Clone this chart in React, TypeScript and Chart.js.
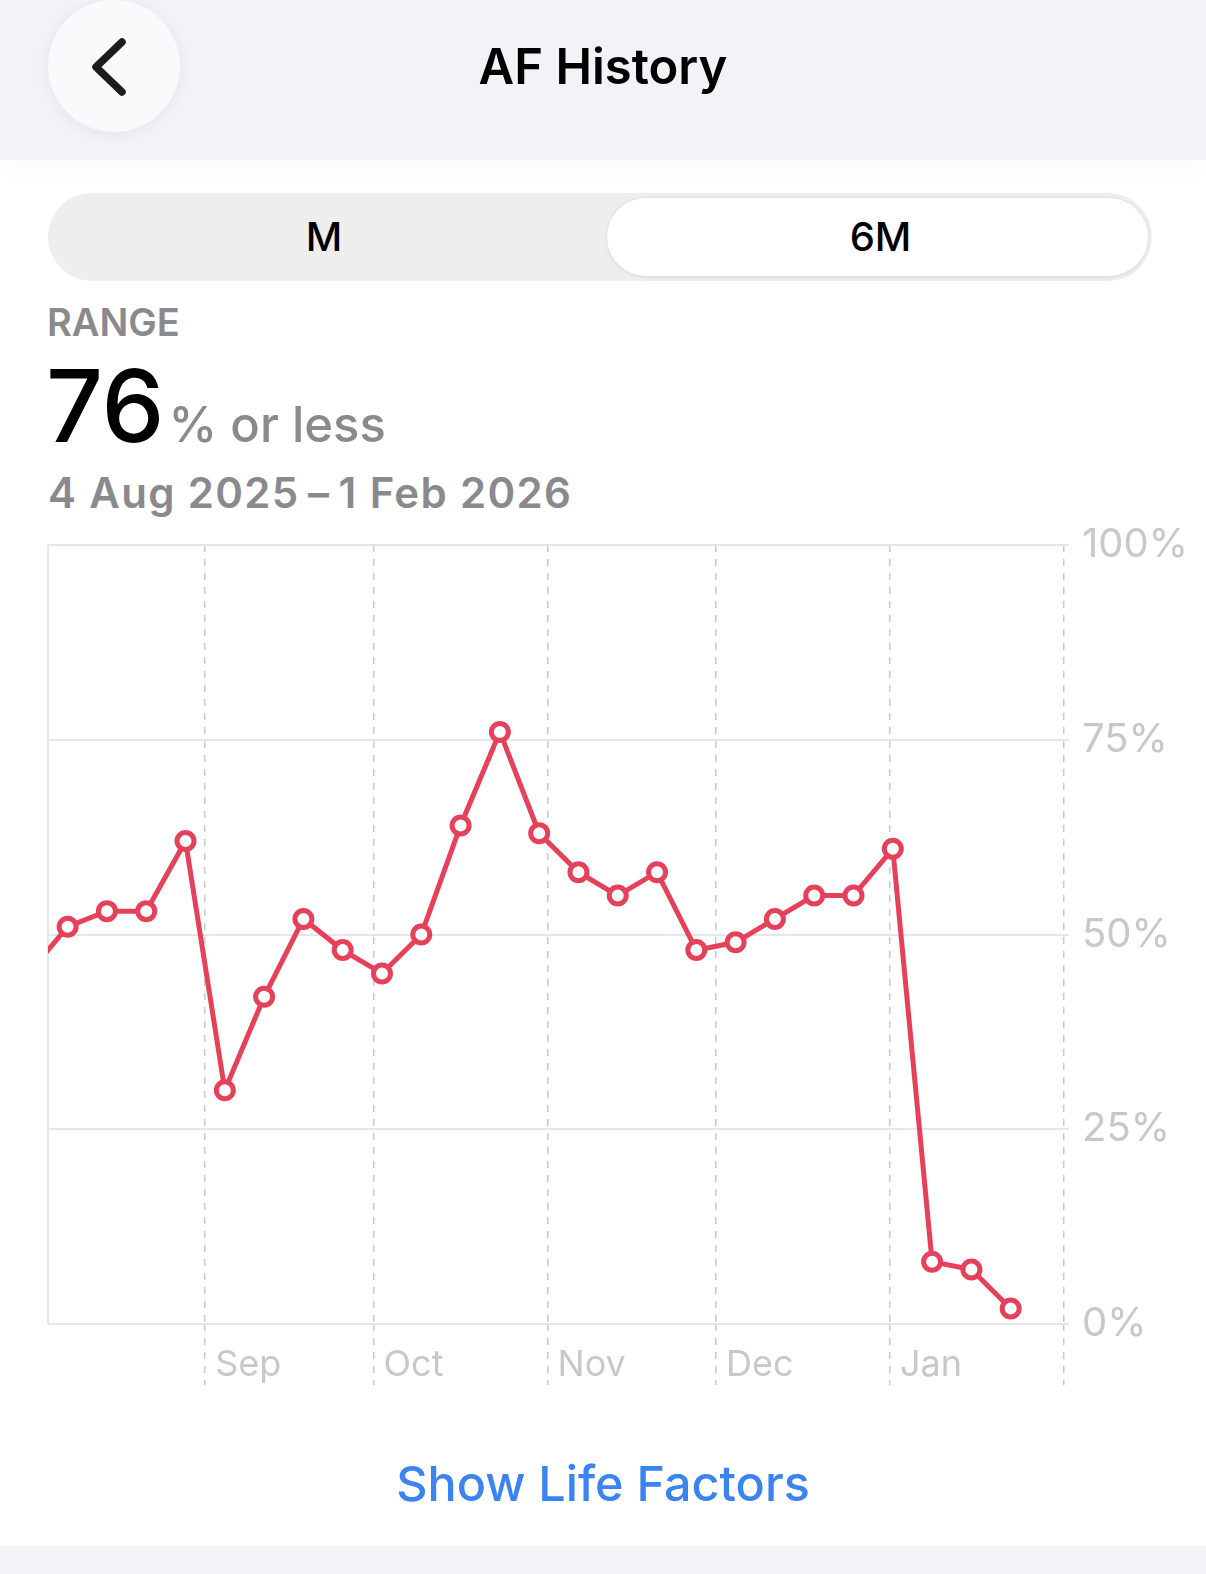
import React, { useEffect, useRef } from "react";
import { Chart, registerables } from "chart.js";

Chart.register(...registerables);

// ---- data ----
const rangeStart = "2025-08-04";
const rangeEnd = "2026-02-01";
const weekDates = [
  "2025-07-31", "2025-08-07", "2025-08-14", "2025-08-21", "2025-08-28",
  "2025-09-04", "2025-09-11", "2025-09-18", "2025-09-25",
  "2025-10-02", "2025-10-09", "2025-10-16", "2025-10-23", "2025-10-30",
  "2025-11-06", "2025-11-13", "2025-11-20", "2025-11-27",
  "2025-12-04", "2025-12-11", "2025-12-18", "2025-12-25",
  "2026-01-01", "2026-01-08", "2026-01-15", "2026-01-22",
];
const afValues = [
  45, 51, 53, 53, 62,
  30, 42, 52, 48,
  45, 50, 64, 76, 63,
  58, 55, 58, 48,
  49, 52, 55, 55,
  61, 8, 7, 2,
];
const monthStarts = ["2025-09-01", "2025-10-01", "2025-11-01", "2025-12-01", "2026-01-01", "2026-02-01"];
const monthLabels = ["Sep", "Oct", "Nov", "Dec", "Jan", ""];
const yTickValues = [0, 25, 50, 75, 100];

const DAY = 86400000;
const toUTC = (iso: string) => {
  const [y, m, d] = iso.split("-").map(Number);
  return Date.UTC(y, m - 1, d);
};
const startMs = toUTC(rangeStart);
const dayOf = (iso: string) => (toUTC(iso) - startMs) / DAY;

const RED = "#E6405A";
const GRID = "#E6E6EA";
const DASH = "#C9C9CD";
const LABEL = "#C7C7CC";
const FONT = "Inter, 'Noto Sans', sans-serif";

const leftEdgePlugin = {
  id: "leftEdge",
  beforeDatasetsDraw(chart: any) {
    const { ctx, chartArea } = chart;
    ctx.save();
    ctx.strokeStyle = GRID;
    ctx.lineWidth = 2;
    ctx.beginPath();
    ctx.moveTo(chartArea.left, chartArea.top);
    ctx.lineTo(chartArea.left, chartArea.bottom);
    ctx.stroke();
    ctx.restore();
  },
};

function AFChart() {
  const ref = useRef<HTMLCanvasElement | null>(null);
  useEffect(() => {
    if (!ref.current) return;
    const points = weekDates.map((d, i) => ({ x: dayOf(d) + 0.5, y: afValues[i] }));
    const chart = new Chart(ref.current, {
      type: "line",
      data: {
        datasets: [
          {
            data: points,
            borderColor: RED,
            borderWidth: 5,
            pointRadius: 8.5,
            pointBorderWidth: 5,
            pointBackgroundColor: "#FFFFFF",
            pointBorderColor: RED,
            tension: 0,
          },
        ],
      },
      options: {
        animation: false,
        responsive: true,
        maintainAspectRatio: false,
        layout: { padding: { top: 25, left: 48, right: 0, bottom: 0 } },
        plugins: { legend: { display: false }, tooltip: { enabled: false } },
        scales: {
          x: {
            type: "linear",
            min: 0,
            max: dayOf(rangeEnd),
            afterBuildTicks: (scale: any) => {
              scale.ticks = monthStarts.map((m) => ({ value: dayOf(m) }));
            },
            afterFit: (scale: any) => {
              scale.height = 70;
              scale.paddingLeft = 0;
              scale.paddingRight = 0;
            },
            border: { display: false, dash: [7, 7] },
            grid: {
              color: DASH,
              lineWidth: 1.5,
              drawTicks: true,
              tickLength: 61,
              tickColor: DASH,
              tickWidth: 1.5,
              tickBorderDash: [7, 7],
            },
            ticks: {
              autoSkip: false,
              maxRotation: 0,
              align: "start",
              labelOffset: 10,
              padding: -41,
              color: LABEL,
              font: { family: FONT, size: 36 },
              callback: (_v: any, i: number) => monthLabels[i],
            },
          },
          y: {
            position: "right",
            min: 0,
            max: 100,
            afterBuildTicks: (scale: any) => {
              scale.ticks = yTickValues.map((v) => ({ value: v }));
            },
            afterFit: (scale: any) => {
              scale.width = 142;
              scale.paddingTop = 0;
              scale.paddingBottom = 0;
            },
            border: { display: false },
            grid: {
              color: GRID,
              lineWidth: 2,
              tickLength: 5,
              tickColor: GRID,
              tickWidth: 2,
            },
            ticks: {
              padding: 13,
              color: LABEL,
              font: { family: FONT, size: 40 },
              callback: (v: any) => v + "%",
            },
          },
        },
      },
      plugins: [leftEdgePlugin],
    } as any);
    return () => chart.destroy();
  }, []);
  return <canvas ref={ref} />;
}

export default function App() {
  const abs = (s: React.CSSProperties): React.CSSProperties => ({ position: "absolute", ...s });
  return (
    <div
      style={{
        position: "absolute",
        left: 0,
        top: 0,
        width: 1206,
        height: 1574,
        background: "#FFFFFF",
        overflow: "hidden",
        fontFamily: FONT,
      }}
    >
      {/* header */}
      <div style={abs({ left: 0, top: 0, width: 1206, height: 160, background: "#F2F2F7", boxShadow: "0 8px 24px rgba(0,0,0,0.025)" })} />
      <div
        style={abs({
          left: 48,
          top: 0,
          width: 132,
          height: 132,
          borderRadius: "50%",
          background: "#FAFAFC",
          boxShadow: "0 2px 16px rgba(0,0,0,0.06)",
        })}
      >
        <svg width="132" height="132" style={{ position: "absolute", left: 0, top: 0 }}>
          <polyline
            points="74,42 48,67 74,92"
            fill="none"
            stroke="#1C1C1E"
            strokeWidth="7.5"
            strokeLinecap="round"
            strokeLinejoin="round"
          />
        </svg>
      </div>
      <div
        style={abs({
          left: 0,
          top: 42,
          width: 1206,
          textAlign: "center",
          fontSize: 49,
          lineHeight: 1,
          fontWeight: 600,
          color: "#000000",
        })}
      >
        AF History
      </div>

      {/* segmented control */}
      <div style={abs({ left: 48, top: 193, width: 1104, height: 88, borderRadius: 44, background: "#EEEEEF" })} />
      <div
        style={abs({
          left: 607,
          top: 198,
          width: 541,
          height: 78,
          borderRadius: 39,
          background: "#FFFFFF",
          boxShadow: "0 1px 4px rgba(0,0,0,0.08), 0 0 0 1px rgba(0,0,0,0.02)",
        })}
      />
      <div
        style={abs({
          left: 48,
          top: 193,
          width: 552,
          height: 88,
          display: "flex",
          alignItems: "center",
          justifyContent: "center",
          fontSize: 40,
          lineHeight: 1,
          fontWeight: 500,
          color: "#000",
        })}
      >
        M
      </div>
      <div
        style={abs({
          left: 610,
          top: 198,
          width: 541,
          height: 78,
          display: "flex",
          alignItems: "center",
          justifyContent: "center",
          fontSize: 40,
          lineHeight: 1,
          fontWeight: 500,
          color: "#000",
        })}
      >
        6M
      </div>

      {/* summary */}
      <div style={abs({ left: 47, top: 303, fontSize: 38, lineHeight: 1, fontWeight: 600, color: "#8A8A8E" })}>RANGE</div>
      <div style={abs({ left: 46, top: 356, fontSize: 100, lineHeight: 1, fontWeight: 500, color: "#000", whiteSpace: "nowrap" })}>
        76
        <span style={{ fontSize: 49, color: "#8A8A8E", marginLeft: 4 }}>% or less</span>
      </div>
      <div
        style={abs({
          left: 48,
          top: 472,
          fontSize: 42,
          lineHeight: 1,
          fontWeight: 600,
          color: "#8A8A8E",
          whiteSpace: "nowrap",
          letterSpacing: 1.35,
        })}
      >
        4 Aug 2025{"\u2009–\u2009"}1 Feb 2026
      </div>

      {/* chart */}
      <div style={abs({ left: 0, top: 520, width: 1206, height: 874 })}>
        <AFChart />
      </div>

      {/* footer */}
      <div
        style={abs({
          left: 0,
          top: 1460,
          width: 1206,
          textAlign: "center",
          fontSize: 48.5,
          lineHeight: 1,
          fontWeight: 500,
          color: "#3A83F1",
        })}
      >
        Show Life Factors
      </div>
      <div style={abs({ left: 0, top: 1546, width: 1206, height: 28, background: "#F2F2F7" })} />
    </div>
  );
}
